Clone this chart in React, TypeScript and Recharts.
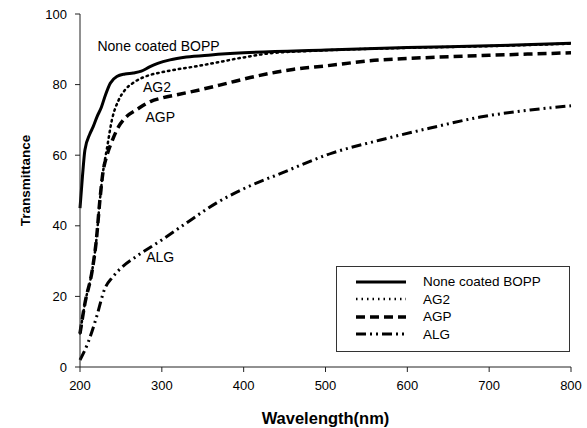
import React from 'react';
import { LineChart, Line, XAxis, YAxis, Legend, ReferenceDot } from 'recharts';

const boppWl = [200, 203, 206, 212, 216, 221, 226, 231, 237, 245, 255, 265, 275, 285, 295, 310, 330, 360, 400, 500, 600, 700, 800];
const boppT = [45, 54, 61.5, 66, 68, 71, 73.5, 77, 80.4, 82.3, 83, 83.3, 83.8, 85, 86, 87, 87.8, 88.4, 89, 89.8, 90.5, 91, 91.7];

const ag2Wl = [200, 206, 215, 220, 224, 228, 233, 239, 247, 255, 265, 285, 300, 350, 400, 430, 500, 600, 700, 800];
const ag2T = [9.5, 18, 27.5, 36, 46.5, 55, 62, 70, 75.5, 78.5, 80.5, 82.7, 83.5, 85.5, 87.7, 88.8, 89.7, 90.4, 90.9, 91.6];

const agpWl = [200, 206, 215, 220, 224, 228, 233, 240, 247, 255, 270, 286, 300, 320, 350, 380, 408, 460, 500, 567, 600, 700, 800];
const agpT = [9.5, 18, 27.5, 36, 46.5, 55, 60, 64.5, 68, 70.5, 73, 75.2, 76.2, 77.2, 78.7, 80.4, 82, 84.3, 85.3, 87, 87.4, 88.3, 89];

const algWl = [200, 210, 220, 230, 240, 250, 270, 300, 330, 367, 400, 447, 508, 567, 628, 689, 750, 800];
const algT = [2, 7, 14, 22, 25.5, 28, 31.5, 36, 40.8, 46.5, 50.5, 55, 60.6, 64.3, 67.7, 70.8, 72.8, 74];

const xTicks = [200, 300, 400, 500, 600, 700, 800];
const yTicks = [0, 20, 40, 60, 80, 100];

const seriesNames = ['None coated BOPP', 'AG2', 'AGP', 'ALG'];

const toData = (wl: number[], t: number[]) => wl.map((w, i) => ({ wl: w, t: t[i] }));

const styles = [
  { width: 3, dash: undefined as string | undefined },
  { width: 2.5, dash: '1.5 4' },
  { width: 3.5, dash: '9 5' },
  { width: 3, dash: '10 4 2 4 2 4' },
];

const seriesData = [toData(boppWl, boppT), toData(ag2Wl, ag2T), toData(agpWl, agpT), toData(algWl, algT)];

const annotations = [
  { name: 'None coated BOPP', x: 296, y: 91 },
  { name: 'AG2', x: 294, y: 79.3 },
  { name: 'AGP', x: 298, y: 70.8 },
  { name: 'ALG', x: 298, y: 31.2 },
];

const font = '"Liberation Sans", Arial, sans-serif';

const LegendBox = () => (
  <div
    style={{
      border: '1px solid #333',
      background: '#fff',
      width: 234,
      height: 86,
      boxSizing: 'border-box',
      padding: '6px 0 0 18px',
      fontFamily: font,
      fontSize: 13.5,
      color: '#000',
    }}
  >
    {seriesNames.map((n, i) => (
      <div key={n} style={{ display: 'flex', alignItems: 'center', height: 17.5 }}>
        <svg width={52} height={10} style={{ marginRight: 16 }}>
          <line
            x1={1}
            y1={5}
            x2={51}
            y2={5}
            stroke="#000"
            strokeWidth={styles[i].width}
            strokeDasharray={styles[i].dash}
          />
        </svg>
        <span>{n}</span>
      </div>
    ))}
  </div>
);

const YTitle = (props: any) => {
  const vb = props.viewBox || { x: 0, y: 0, width: 80, height: 353 };
  const cx = vb.x + 25;
  const cy = vb.y + vb.height / 2 - 10;
  return (
    <text
      x={cx}
      y={cy}
      transform={`rotate(-90, ${cx}, ${cy})`}
      textAnchor="middle"
      dominantBaseline="central"
      style={{ fontWeight: 'bold', fontSize: 13.5, fontFamily: font, fill: '#000' }}
    >
      Transmittance
    </text>
  );
};

export default function App() {
  return (
    <div style={{ position: 'absolute', left: 0, top: 0, background: '#fff' }}>
      <LineChart width={587} height={428} margin={{ top: 14, right: 16, bottom: 0, left: 0 }}>
        <XAxis
          dataKey="wl"
          type="number"
          domain={[200, 800]}
          ticks={xTicks}
          allowDuplicatedCategory={false}
          height={61}
          tickSize={5}
          tickMargin={9}
          stroke="#222"
          tick={{ fill: '#000', fontSize: 13, fontFamily: font }}
          label={{ value: 'Wavelength(nm)', position: 'insideBottom', offset: 4, style: { fontWeight: 'bold', fontSize: 16.5, fontFamily: font, fill: '#000' } }}
        />
        <XAxis xAxisId="top" orientation="top" type="number" domain={[200, 800]} tick={false} tickLine={false} height={0} stroke="#555" />
        <YAxis
          dataKey="t"
          type="number"
          domain={[0, 100]}
          ticks={yTicks}
          width={80}
          tickSize={5}
          tickMargin={8}
          stroke="#222"
          tick={{ fill: '#000', fontSize: 13, fontFamily: font }}
          label={<YTitle />}
        />
        <YAxis yAxisId="right" orientation="right" domain={[0, 100]} tick={false} tickLine={false} width={0} stroke="#333" />
        {seriesData.map((d, i) => (
          <Line
            key={seriesNames[i]}
            data={d}
            dataKey="t"
            name={seriesNames[i]}
            type="monotone"
            stroke="#000"
            strokeWidth={styles[i].width}
            strokeDasharray={styles[i].dash}
            strokeLinecap={i === 1 ? 'round' : 'butt'}
            dot={false}
            isAnimationActive={false}
          />
        ))}
        {annotations.map((a) => (
          <ReferenceDot
            key={a.name}
            x={a.x}
            y={a.y}
            r={0}
            stroke="none"
            fill="none"
            label={{ value: a.name, position: 'center', fill: '#000', fontSize: 14, fontFamily: font }}
          />
        ))}
        <Legend
          layout="horizontal"
          align="center"
          verticalAlign="middle"
          content={() => <LegendBox />}
          wrapperStyle={{ left: 336, top: 266, width: 234, height: 86 }}
        />
      </LineChart>
    </div>
  );
}
